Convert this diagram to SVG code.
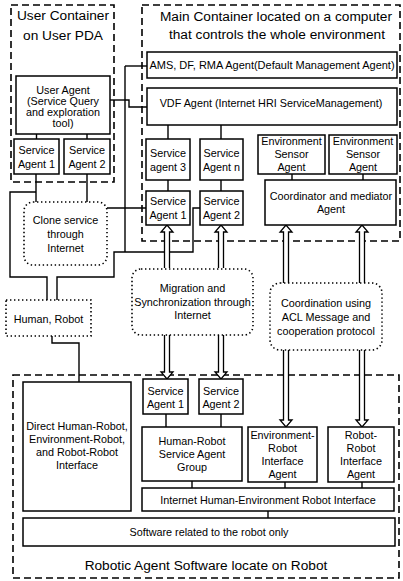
<svg xmlns="http://www.w3.org/2000/svg" width="403" height="581" viewBox="0 0 403 581">
<style>
.cont{fill:none;stroke:#000;stroke-width:1.6;stroke-dasharray:7 4}
.box{fill:#fff;stroke:#000;stroke-width:1.5}
.dot{fill:#fff;stroke:#000;stroke-width:1.6;stroke-dasharray:1.4 2.6}
.ln{fill:none;stroke:#000;stroke-width:1.4}
.arr{fill:#fff;stroke:#000;stroke-width:1.3;stroke-linejoin:miter}
text{font-family:"Liberation Sans",Arial,sans-serif;fill:#000;text-anchor:middle}
.t{font-size:10.8px}
.ttl{font-size:13.7px}
</style>
<rect width="403" height="581" fill="#fff"/>

<g id="user-container">
<rect class="cont" x="11" y="5" width="103" height="177"/>
<text class="ttl" x="63" y="20">User Container</text>
<text class="ttl" x="63" y="40">on User PDA</text>
</g>
<g id="main-container">
<rect class="cont" x="142" y="5" width="258" height="236"/>
<text class="ttl" x="276" y="21">Main Container located on a computer</text>
<text class="ttl" x="277" y="39">that controls the whole environment</text>
</g>
<g id="robot-container">
<rect class="cont" x="13" y="375" width="386" height="203"/>
<text class="ttl" x="206" y="570">Robotic Agent Software locate on Robot</text>
</g>

<g id="connectors">
<path class="ln" d="M110,100 H125"/>
<path class="ln" d="M125,66 V252"/>
<path class="ln" d="M125,66 H147"/>
<path class="ln" d="M125,100 H129 V107 H147"/>
<path class="ln" d="M36.5,134 V139 M87,134 V139"/>
<path class="ln" d="M36,174 V202 M87,174 V202"/>
<path class="ln" d="M36,192 H10 V277 H47 V300"/>
<path class="ln" d="M200,208 H193 V252 H114 V277 H57 V300"/>
<path class="ln" d="M107,208 H146"/>
<path class="ln" d="M52,336 V343 H79 V382"/>
<path class="ln" d="M168,125 V139 M221,125 V139"/>
<path class="ln" d="M168,180 V191 M221,180 V191"/>
<path class="ln" d="M292,174 V180 M363,174 V180"/>
<path class="ln" d="M166,414 V427 M221,414 V427"/>
<path class="ln" d="M192,481 V488"/>
<path class="ln" d="M285,482 V488 M362,482 V488"/>
<path class="ln" d="M268,511 V518"/>
<path class="arr" d="M164.5,268 V232 H161 L167,225 L173,232 H169.5 V268"/>
<path class="arr" d="M164.5,335 V372 H161 L167,379 L173,372 H169.5 V335"/>
<path class="arr" d="M218.5,268 V232 H215 L221,225 L227,232 H223.5 V268"/>
<path class="arr" d="M218.5,335 V372 H215 L221,379 L227,372 H223.5 V335"/>
<path class="arr" d="M283.5,283 V232 H280 L286,225 L292,232 H288.5 V283"/>
<path class="arr" d="M283.5,350 V420 H280 L286,427 L292,420 H288.5 V350"/>
<path class="arr" d="M359.5,283 V232 H356 L362,225 L368,232 H364.5 V283"/>
<path class="arr" d="M359.5,350 V420 H356 L362,427 L368,420 H364.5 V350"/>
</g>

<g id="user-agent">
<rect class="box" x="16" y="76" width="94" height="58"/>
<text class="t" x="63" y="94">User Agent</text>
<text class="t" x="63" y="105">(Service Query</text>
<text class="t" x="63" y="116">and exploration</text>
<text class="t" x="63" y="127">tool)</text>
</g>
<g id="user-service-agent-1">
<rect class="box" x="14" y="139" width="45" height="35"/>
<text class="t" x="36.5" y="154">Service</text>
<text class="t" x="36.5" y="168">Agent 1</text>
</g>
<g id="user-service-agent-2">
<rect class="box" x="64" y="139" width="46" height="35"/>
<text class="t" x="87" y="154">Service</text>
<text class="t" x="87" y="168">Agent 2</text>
</g>

<g id="ams-agent">
<rect class="box" x="147" y="52" width="250" height="26"/>
<text class="t" x="272" y="69" style="font-size:11px">AMS, DF, RMA Agent(Default Management Agent)</text>
</g>
<g id="vdf-agent">
<rect class="box" x="147" y="88" width="250" height="37"/>
<text class="t" x="271" y="107">VDF Agent (Internet HRI ServiceManagement)</text>
</g>
<g id="service-agent-3">
<rect class="box" x="146" y="139" width="44" height="41"/>
<text class="t" x="168" y="157">Service</text>
<text class="t" x="168" y="171">agent 3</text>
</g>
<g id="service-agent-n">
<rect class="box" x="200" y="139" width="43" height="41"/>
<text class="t" x="221.5" y="157">Service</text>
<text class="t" x="221.5" y="171">Agent n</text>
</g>
<g id="main-service-agent-1">
<rect class="box" x="146" y="191" width="44" height="34"/>
<text class="t" x="168" y="205">Service</text>
<text class="t" x="168" y="219">Agent 1</text>
</g>
<g id="main-service-agent-2">
<rect class="box" x="200" y="191" width="43" height="34"/>
<text class="t" x="221.5" y="205">Service</text>
<text class="t" x="221.5" y="219">Agent 2</text>
</g>
<g id="env-sensor-agent-1">
<rect class="box" x="258" y="135" width="67" height="39"/>
<text class="t" x="291.5" y="145">Environment</text>
<text class="t" x="291.5" y="158">Sensor</text>
<text class="t" x="291.5" y="171">Agent</text>
</g>
<g id="env-sensor-agent-2">
<rect class="box" x="329" y="135" width="68" height="39"/>
<text class="t" x="363" y="145">Environment</text>
<text class="t" x="363" y="158">Sensor</text>
<text class="t" x="363" y="171">Agent</text>
</g>
<g id="coordinator-agent">
<rect class="box" x="265" y="180" width="131" height="45"/>
<text class="t" x="331" y="200">Coordinator and mediator</text>
<text class="t" x="331" y="213">Agent</text>
</g>

<g id="clone-service">
<rect class="dot" x="24" y="202" width="83" height="63" rx="9"/>
<text class="t" x="65.5" y="224">Clone service</text>
<text class="t" x="65.5" y="238">through</text>
<text class="t" x="65.5" y="252">Internet</text>
</g>
<g id="human-robot">
<rect class="dot" x="6" y="300" width="85" height="36"/>
<text class="t" x="48.5" y="323">Human, Robot</text>
</g>
<g id="migration">
<rect class="dot" x="132" y="269" width="121" height="66" rx="9"/>
<text class="t" x="192.5" y="292">Migration and</text>
<text class="t" x="192.5" y="306">Synchronization through</text>
<text class="t" x="192.5" y="319">Internet</text>
</g>
<g id="coordination">
<rect class="dot" x="270" y="283" width="112" height="67" rx="10"/>
<text class="t" x="326" y="307">Coordination using</text>
<text class="t" x="326" y="321">ACL Message and</text>
<text class="t" x="326" y="335">cooperation protocol</text>
</g>

<g id="robot-service-agent-1">
<rect class="box" x="143" y="379" width="45" height="35"/>
<text class="t" x="165.5" y="395">Service</text>
<text class="t" x="165.5" y="408">Agent 1</text>
</g>
<g id="robot-service-agent-2">
<rect class="box" x="199" y="379" width="44" height="35"/>
<text class="t" x="221" y="395">Service</text>
<text class="t" x="221" y="408">Agent 2</text>
</g>
<g id="direct-interface">
<rect class="box" x="23" y="382" width="108" height="129"/>
<text class="t" x="77" y="430">Direct Human-Robot,</text>
<text class="t" x="77" y="443">Environment-Robot,</text>
<text class="t" x="77" y="456">and Robot-Robot</text>
<text class="t" x="77" y="469">Interface</text>
</g>
<g id="service-agent-group">
<rect class="box" x="142" y="427" width="100" height="54"/>
<text class="t" x="192" y="445">Human-Robot</text>
<text class="t" x="192" y="458">Service Agent</text>
<text class="t" x="192" y="471">Group</text>
</g>
<g id="env-robot-agent">
<rect class="box" x="248" y="427" width="69" height="55"/>
<text class="t" x="282.5" y="439">Environment-</text>
<text class="t" x="282.5" y="452">Robot</text>
<text class="t" x="282.5" y="465">Interface</text>
<text class="t" x="282.5" y="478">Agent</text>
</g>
<g id="robot-robot-agent">
<rect class="box" x="328" y="427" width="66" height="55"/>
<text class="t" x="361" y="439">Robot-</text>
<text class="t" x="361" y="452">Robot</text>
<text class="t" x="361" y="465">Interface</text>
<text class="t" x="361" y="478">Agent</text>
</g>
<g id="internet-interface">
<rect class="box" x="142" y="488" width="252" height="23"/>
<text class="t" x="268" y="504">Internet Human-Environment Robot Interface</text>
</g>
<g id="robot-software">
<rect class="box" x="23" y="518" width="372" height="28"/>
<text class="t" x="209" y="536">Software related to the robot only</text>
</g>
</svg>
